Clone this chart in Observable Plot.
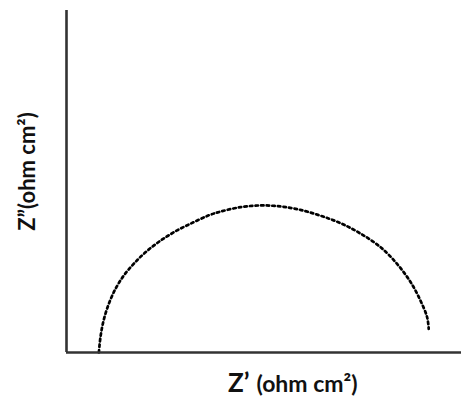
<!DOCTYPE html>
<html>
<head>
<meta charset="utf-8">
<script src="https://cdn.jsdelivr.net/npm/d3@7"></script>
<script src="https://cdn.jsdelivr.net/npm/@observablehq/plot@0.6"></script>
<style>
  html, body { margin: 0; padding: 0; background: #fff; }
  #chart { width: 461px; height: 400px; }
</style>
</head>
<body>
<div id="chart"></div>
<script>
const zReal = [8.2, 8.6, 9.4, 10.7, 12.4, 14.5, 17.0, 20.0, 23.8, 28.0, 32.2, 36.0, 39.0, 44.1, 49.1, 54.2, 59.2, 64.3, 69.4, 74.4, 79.5, 83.7, 87.1, 89.6, 91.3, 91.7];
const zImag = [0.0, 4.5, 9.4, 14.2, 18.6, 22.5, 25.9, 29.3, 32.7, 35.7, 38.1, 40.1, 41.2, 42.5, 43.0, 42.7, 41.7, 40.0, 37.8, 34.8, 30.8, 25.9, 20.6, 15.2, 10.3, 6.9];
const xLabelMain = "Z\u2019";
const xLabelUnit = "(ohm cm\u00B2)";
const yLabel = "Z\u201D(ohm cm\u00B2)";

const data = zReal.map((x, i) => ({x, y: zImag[i]}));

const plot = Plot.plot({
  width: 461,
  height: 400,
  marginLeft: 66,
  marginRight: 0,
  marginTop: 10,
  marginBottom: 48,
  x: {domain: [0, 100], axis: null},
  y: {domain: [0, 100], axis: null},
  style: {fontFamily: "Lato, sans-serif", background: "#fff"},
  marks: [
    Plot.line(data, {x: "x", y: "y", curve: "catmull-rom", stroke: "#000", strokeWidth: 2.7, strokeDasharray: "2.5,3.1"}),
    Plot.ruleX([0], {stroke: "#333", strokeWidth: 2.6}),
    Plot.ruleY([0], {stroke: "#333", strokeWidth: 2.6}),
    Plot.text([xLabelMain], {text: d => d, frameAnchor: "bottom", textAnchor: "end", lineAnchor: "middle", dx: -14.5, dy: 31, fontSize: 26, fontWeight: "bold", fill: "#111"}),
    Plot.text([xLabelUnit], {text: d => d, frameAnchor: "bottom", textAnchor: "start", lineAnchor: "middle", dx: -7.5, dy: 32, fontSize: 23, fontWeight: "bold", fill: "#111"}),
    Plot.text([yLabel], {text: d => d, frameAnchor: "left", rotate: -90, textAnchor: "middle", lineAnchor: "middle", dx: -39, dy: -10, fontSize: 22, fontWeight: "bold", fill: "#111"})
  ]
});
document.getElementById("chart").appendChild(plot);
</script>
</body>
</html>
